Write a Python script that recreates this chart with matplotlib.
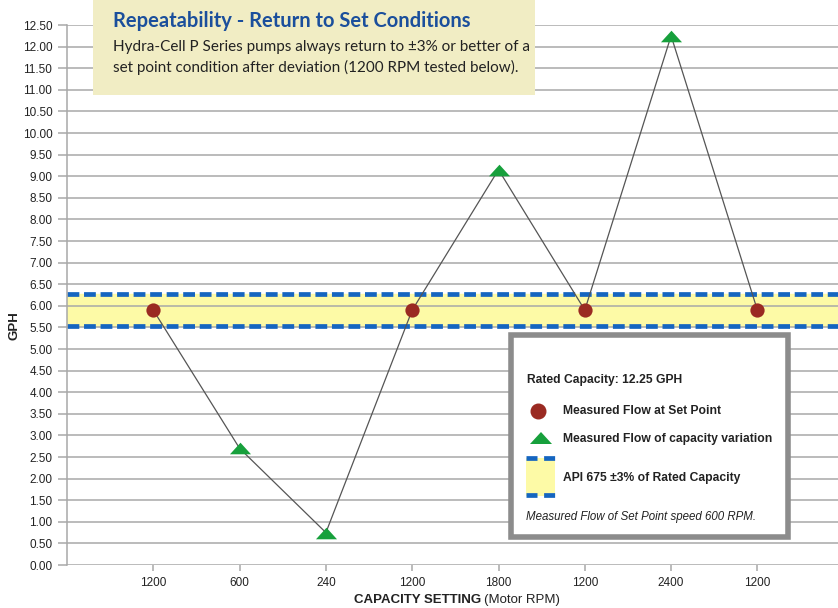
import matplotlib
matplotlib.use("Agg")
import matplotlib.pyplot as plt
from matplotlib.patches import Rectangle, Polygon
from matplotlib.lines import Line2D
from matplotlib.path import Path
import numpy as np

categories = ["1200", "600", "240", "1200", "1800", "1200", "2400", "1200"]
flow = [5.9, 2.7, 0.75, 5.9, 9.15, 5.9, 12.25, 5.9]
is_set_point = [True, False, False, True, False, True, False, True]
band_low, band_high = 5.53, 6.27
yticks = np.arange(0, 12.51, 0.5)

font = ["Liberation Sans Narrow", "Liberation Sans", "DejaVu Sans"]
plt.rcParams['font.family'] = font

W, H = 838, 608
def fx(px): return px / W
def fy(py): return 1 - py / H

fig = plt.figure(figsize=(8.38, 6.08), dpi=100)
ax = fig.add_axes([fx(67), fy(565), 1 - fx(67), fy(25) - fy(565)])
x = np.arange(1, len(categories) + 1)
ax.set_xlim(0, (W - 67) / 86.3)
ax.set_ylim(0, 12.5)

grid_c = "#a8a8a8"
for yv in yticks:
    ax.axhline(yv, color=grid_c, lw=1.1, zorder=1)

blue = "#1565c0"
yellow = "#fdfaa6"
ax.axhspan(band_low, band_high, color=yellow, zorder=0.5)
for yv in (band_low, band_high):
    ax.axhline(yv, color=blue, lw=3.4, dashes=(2.5, 1.0), zorder=2)

ax.plot(x, flow, color="#555555", lw=0.9, zorder=3)
tri = Path([(-1.0, -0.55), (1.0, -0.55), (0.0, 0.55), (-1.0, -0.55)],
           [Path.MOVETO, Path.LINETO, Path.LINETO, Path.CLOSEPOLY])
sx = [xi for xi, s in zip(x, is_set_point) if s]
sy = [f for f, s in zip(flow, is_set_point) if s]
tx = [xi for xi, s in zip(x, is_set_point) if not s]
ty = [f for f, s in zip(flow, is_set_point) if not s]
ax.scatter(sx, sy, s=105, color="#9a2a22", zorder=4, linewidths=0)
ax.scatter(tx, ty, s=230, marker=tri, color="#17a03c", zorder=4, linewidths=0)

ax.set_yticks(yticks)
ax.set_yticklabels([f"{v:.2f}" for v in yticks], fontsize=8.5, color="#222222")
ax.set_xticks(x)
ax.set_xticklabels(categories, fontsize=8.5, color="#222222")
ax.tick_params(axis="y", length=6.5, color=grid_c, width=1.1, pad=4)
ax.tick_params(axis="x", length=4, color=grid_c, width=1.1, pad=5)
for s in ("top", "right", "bottom"):
    ax.spines[s].set_visible(False)
ax.spines["left"].set_color(grid_c)
ax.spines["left"].set_linewidth(1.1)

fig.text(fx(15), fy(326), "GPH", rotation=90, fontsize=9.5, fontweight="bold",
         color="#222222", ha="center", va="center")
fig.text(fx(481), fy(600), "CAPACITY SETTING", ha="right", va="center", fontsize=9.5,
         fontweight="bold", color="#222222")
fig.text(fx(484), fy(600), "(Motor RPM)", ha="left", va="center", fontsize=9.5, color="#222222")

# title box
fig.patches.append(Rectangle((fx(93), fy(95)), (535 - 93) / W, 95 / H, transform=fig.transFigure,
                             facecolor="#f1edc4", edgecolor="none", zorder=5))
title_font = ["Lato", "DejaVu Sans"]
fig.text(fx(113), fy(21), "Repeatability - Return to Set Conditions", family=title_font,
         fontsize=14.5, fontweight="bold", color="#1b4f9c", va="center", zorder=6)
fig.text(fx(113), fy(47), "Hydra-Cell P Series pumps always return to ±3% or better of a",
         family=title_font, fontsize=11, color="#222222", va="center", zorder=6)
fig.text(fx(113), fy(67), "set point condition after deviation (1200 RPM tested below).",
         family=title_font, fontsize=11, color="#222222", va="center", zorder=6)

# legend box
lx0, ly0, lx1, ly1 = 511, 335, 788, 537
fig.patches.append(Rectangle((fx(lx0), fy(ly1)), (lx1 - lx0) / W, (ly1 - ly0) / H,
                             transform=fig.transFigure, facecolor="white",
                             edgecolor="#8c8c8c", lw=4, zorder=5))
fig.text(fx(527), fy(380), "Rated Capacity: 12.25 GPH", fontsize=8.7, fontweight="bold",
         color="#222222", va="center", zorder=6)
fig.lines.append(Line2D([fx(538)], [fy(411)], marker="o", markersize=10.5, color="#9a2a22",
                        lw=0, transform=fig.transFigure, zorder=6))
fig.text(fx(563), fy(411), "Measured Flow at Set Point", fontsize=8.7, fontweight="bold",
         color="#222222", va="center", zorder=6)
fig.patches.append(Polygon([(fx(530), fy(444)), (fx(552), fy(444)), (fx(541), fy(432))],
                           closed=True, transform=fig.transFigure, facecolor="#17a03c",
                           edgecolor="none", zorder=6))
fig.text(fx(563), fy(439), "Measured Flow of capacity variation", fontsize=8.7,
         fontweight="bold", color="#222222", va="center", zorder=6)
fig.patches.append(Rectangle((fx(526), fy(496)), (555 - 526) / W, (496 - 458) / H,
                             transform=fig.transFigure, facecolor=yellow, edgecolor="none",
                             zorder=6))
for py in (458, 495):
    fig.lines.append(Line2D([fx(526), fx(555)], [fy(py), fy(py)], color=blue, lw=3.4,
                            dashes=(2.33, 1.4), transform=fig.transFigure, zorder=7))
fig.text(fx(563), fy(478), "API 675 ±3% of Rated Capacity", fontsize=8.7, fontweight="bold",
         color="#222222", va="center", zorder=6)
fig.text(fx(526), fy(517), "Measured Flow of Set Point speed 600 RPM.", fontsize=8.3,
         style="italic", color="#222222", va="center", zorder=6)

fig.savefig("out.png", dpi=100)
